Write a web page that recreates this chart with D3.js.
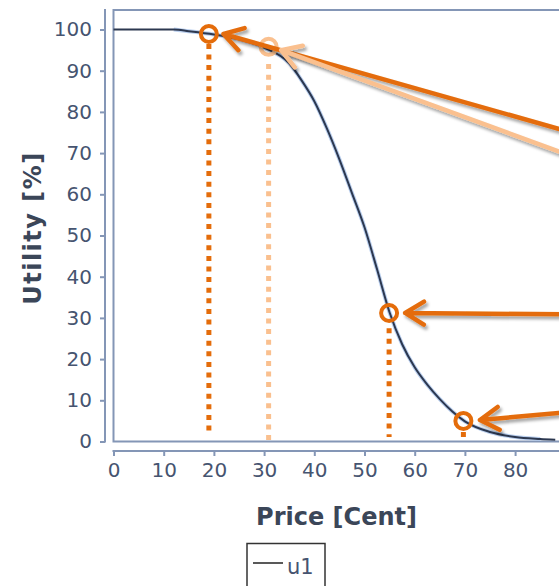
<!DOCTYPE html>
<html>
<head>
<meta charset="utf-8">
<script src="https://cdn.jsdelivr.net/npm/d3@7/dist/d3.min.js"></script>
<style>
  html, body { margin: 0; padding: 0; background: #ffffff; overflow: hidden; }
  svg { display: block; }
</style>
</head>
<body>
<svg id="chart" width="559" height="586"></svg>
<script>
// ---- data ----
const prices  = [0, 5, 10, 12, 15, 20, 25, 30, 35, 37.5, 40, 42.5, 45, 47.5, 50, 52.5, 55, 57.5, 60, 62.5, 65, 67.5, 70, 75, 80, 85, 88];
const utility = [100, 100, 100, 100, 99.6, 98.8, 97.6, 95.6, 91.8, 87.6, 82.6, 76.0, 68.5, 60.3, 52.0, 41.8, 31.3, 23.6, 18.0, 13.8, 10.3, 7.3, 4.9, 2.3, 1.1, 0.6, 0.4];
const xTicks = [0, 10, 20, 30, 40, 50, 60, 70, 80];
const yTicks = [0, 10, 20, 30, 40, 50, 60, 70, 80, 90, 100];
const seriesName = "u1";
const xTitle = "Price [Cent]";
const yTitle = "Utility [%]";

// marked points (price, utility) and their guide lines (utility top/bottom)
const markPrice   = [19.0, 30.9, 54.9, 69.7];
const markUtility = [98.9, 95.8, 31.2, 5.0];
const markTone    = ["dark", "light", "dark", "dark"];
const guideTop    = [96.5, 91.6, 27.5, 2.3];
const guideBottom = [1.8, 0, 1.1, 0.8];
// arrows: tip and tail in data coordinates
const arrowTipPrice   = [21.9, 33.4, 58.1, 73.0];
const arrowTipUtil    = [98.9, 95.0, 31.2, 5.2];
const arrowTailPrice  = [104.9, 104.9, 104.9, 104.9];
const arrowTailUtil   = [70.3, 63.2, 30.7, 8.7];
const arrowTone       = ["dark", "light", "dark", "dark"];

const tones = { dark: "#e46c0a", light: "#fac08f" };
const axisColor = "#8496b6";
const textColor = "#465470";
const titleColor = "#3b4658";
const font = "'DejaVu Sans', Verdana, sans-serif";

const svg = d3.select("#chart");
const x = d3.scaleLinear().domain([0, 100]).range([113.5, 615.5]);
const y = d3.scaleLinear().domain([0, 100]).range([441.5, 29.5]);

const defs = svg.append("defs");
const f = defs.append("filter").attr("id", "shadow")
  .attr("x", "-20%").attr("y", "-50%").attr("width", "140%").attr("height", "200%");
f.append("feDropShadow").attr("dx", 2).attr("dy", 3).attr("stdDeviation", 1.8)
  .attr("flood-color", "#000").attr("flood-opacity", 0.35);

// plot frame
const frameTop = 10;
svg.append("path")
  .attr("d", `M${x(100)},${frameTop} H${x(0)} V${y(0)} H${x(100)}`)
  .attr("fill", "none").attr("stroke", axisColor).attr("stroke-width", 2);

// Y axis (offset)
const yAxis = d3.axisLeft(y).tickValues(yTicks).tickSize(5).tickPadding(8);
const gy = svg.append("g").attr("transform", "translate(105,0)").call(yAxis);
gy.select(".domain").remove();
gy.append("line").attr("x1", 0).attr("x2", 0).attr("y1", 9).attr("y2", y(0) + 1)
  .attr("stroke", axisColor).attr("stroke-width", 2);
gy.selectAll(".tick line").attr("stroke", axisColor).attr("stroke-width", 2);
gy.selectAll(".tick text").attr("fill", textColor)
  .style("font-family", font).style("font-size", "20px");

// X axis (offset)
const xAxis = d3.axisBottom(x).tickValues(xTicks).tickSize(5).tickPadding(7);
const gx = svg.append("g").attr("transform", "translate(0,451)").call(xAxis);
gx.select(".domain").remove();
gx.append("line").attr("x1", x(0) - 1).attr("x2", x(100)).attr("y1", 0).attr("y2", 0)
  .attr("stroke", axisColor).attr("stroke-width", 2);
gx.selectAll(".tick line").attr("stroke", axisColor).attr("stroke-width", 2);
gx.selectAll(".tick text").attr("fill", textColor)
  .style("font-family", font).style("font-size", "20px");

// titles
svg.append("text").attr("x", 336.5).attr("y", 525).attr("text-anchor", "middle")
  .attr("fill", titleColor).style("font-family", font)
  .style("font-size", "24px").style("font-weight", "bold").text(xTitle);
svg.append("text").attr("transform", "translate(41,228) rotate(-90)").attr("text-anchor", "middle")
  .attr("fill", titleColor).style("font-family", font)
  .style("font-size", "24px").style("font-weight", "bold").style("letter-spacing", "1.5px").text(yTitle);

// curve
const pts = prices.map((p, i) => [p, utility[i]]);
const line = d3.line().x(d => x(d[0])).y(d => y(d[1])).curve(d3.curveMonotoneX);
svg.append("path").datum(pts.filter(d => d[0] >= 12 && d[0] <= 85)).attr("d", line)
  .attr("fill", "none").attr("stroke", "#a9c3ea").attr("stroke-width", 4).attr("opacity", 0.8);
svg.append("path").datum(pts).attr("d", line)
  .attr("fill", "none").attr("stroke", "#2c3850").attr("stroke-width", 2);

// guide lines
markPrice.forEach((p, i) => {
  svg.append("line")
    .attr("x1", x(p)).attr("x2", x(p))
    .attr("y1", y(guideTop[i])).attr("y2", y(guideBottom[i]))
    .attr("stroke", tones[markTone[i]]).attr("stroke-width", 5)
    .attr("stroke-dasharray", "5,5.6");
});

// circles
markPrice.forEach((p, i) => {
  svg.append("circle").attr("cx", x(p)).attr("cy", y(markUtility[i])).attr("r", 8)
    .attr("fill", "none").attr("stroke", tones[markTone[i]]).attr("stroke-width", 4);
});

// arrows
arrowTipPrice.forEach((p, i) => {
  const tx = x(p), ty = y(arrowTipUtil[i]);
  const sx = x(arrowTailPrice[i]), sy = y(arrowTailUtil[i]);
  const ang = Math.atan2(sy - ty, sx - tx);
  const L = 22, a = 0.55;
  const w1 = [tx + L * Math.cos(ang - a), ty + L * Math.sin(ang - a)];
  const w2 = [tx + L * Math.cos(ang + a), ty + L * Math.sin(ang + a)];
  svg.append("path")
    .attr("d", `M${sx},${sy} L${tx},${ty} M${w1[0]},${w1[1]} L${tx},${ty} L${w2[0]},${w2[1]}`)
    .attr("fill", "none").attr("stroke", tones[arrowTone[i]]).attr("stroke-width", 4.5)
    .attr("stroke-linecap", "round").attr("stroke-linejoin", "round")
    .attr("filter", "url(#shadow)");
});

// legend
const lg = svg.append("g");
lg.append("rect").attr("x", 247).attr("y", 543.5).attr("width", 78).attr("height", 50)
  .attr("fill", "#fff").attr("stroke", "#333").attr("stroke-width", 1.5);
lg.append("line").attr("x1", 253).attr("x2", 283).attr("y1", 563).attr("y2", 563)
  .attr("stroke", "#222").attr("stroke-width", 1.5);
lg.append("text").attr("x", 287).attr("y", 574).attr("fill", textColor)
  .style("font-family", font).style("font-size", "21px")
  .text(seriesName);
</script>
</body>
</html>
